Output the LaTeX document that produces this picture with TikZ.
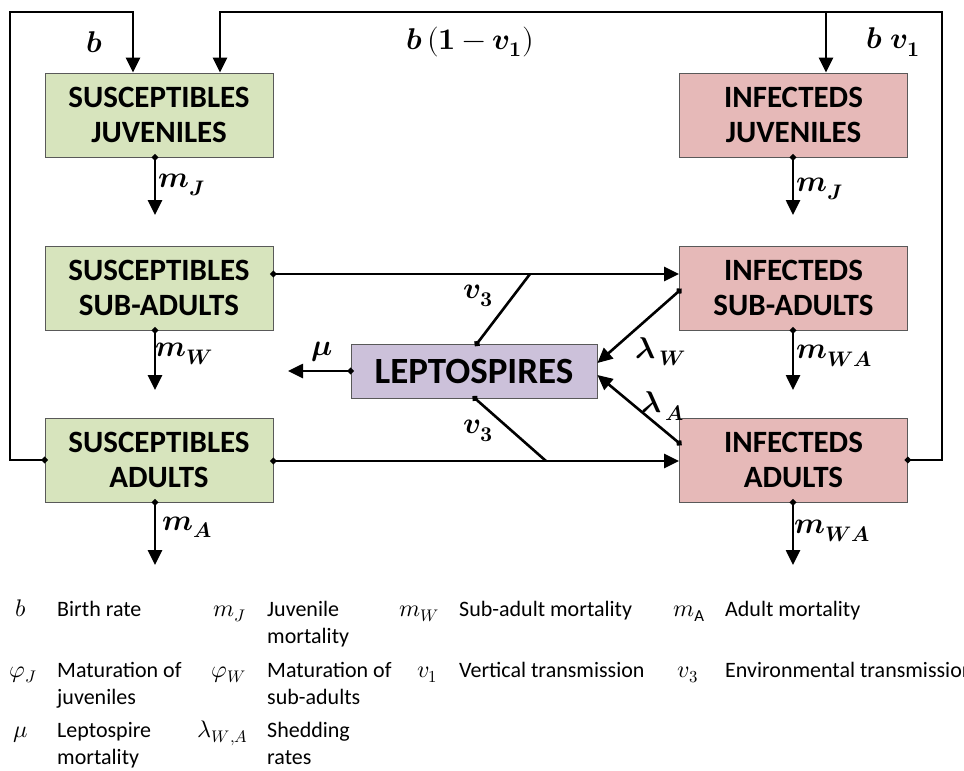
\documentclass[tikz,border=0pt]{standalone}
\usepackage{fontspec}
\usepackage{unicode-math}
\setmainfont{Carlito}
\setmathfont{Latin Modern Math}
\usetikzlibrary{arrows.meta}
\definecolor{susgreen}{HTML}{D7E4BD}
\definecolor{infpink}{HTML}{E6B9B8}
\definecolor{leppurple}{HTML}{CCC1DA}
\begin{document}
\begin{tikzpicture}[x=1pt,y=-1pt,
  compartment/.style={draw=black!65, line width=0.8pt, minimum width=228pt,
    minimum height=84pt, align=center, inner sep=0pt,
    font=\fontsize{31}{35}\selectfont\bfseries},
  sus/.style={compartment, fill=susgreen},
  inf/.style={compartment, fill=infpink},
  wire/.style={line width=2.6pt},
  flow/.style={wire, -{Triangle[length=15pt,width=14pt]}},
  dotflow/.style={wire, {Circle[length=6pt]}-{Triangle[length=15pt,width=14pt]}, shorten <=-3pt},
  dotwire/.style={wire, {Circle[length=6pt]}-, shorten <=-3pt},
  rate/.style={font=\fontsize{30}{33}\selectfont, inner sep=0pt},
  legtxt/.style={font=\fontsize{22}{27}\selectfont, anchor=base west, inner sep=0pt},
  legsym/.style={font=\fontsize{24}{27}\selectfont, anchor=base, inner sep=0pt},
  legsymr/.style={font=\fontsize{24}{27}\selectfont, anchor=base east, inner sep=0pt},
]
\clip (0,0) rectangle (964,771);
\fill[white] (0,0) rectangle (964,771);

% compartments
\node[sus] (sj) at (159,115) {SUSCEPTIBLES\\JUVENILES};
\node[inf] (ij) at (793.5,115) {INFECTEDS\\JUVENILES};
\node[sus] (ss) at (159,288) {SUSCEPTIBLES\\SUB-ADULTS};
\node[inf] (is) at (793.5,288) {INFECTEDS\\SUB-ADULTS};
\node[sus] (sa) at (159,460) {SUSCEPTIBLES\\ADULTS};
\node[inf] (ia) at (793.5,460) {INFECTEDS\\ADULTS};
\node[draw=black!65, line width=0.8pt, fill=leppurple, minimum width=246pt,
  minimum height=54pt, inner sep=0pt, font=\fontsize{37}{40}\selectfont\bfseries]
  (lep) at (474,371) {LEPTOSPIRES};

% births
\draw[dotflow] (sa.west) -| (10,12) -| (sj.north -| 133,0);
\draw[dotflow] (ia.east) -| (942,12) -| (sj.north -| 220,0);
\coordinate (vsplit) at (826,12);
\draw[flow] (vsplit) -- (ij.north -| vsplit);

% mortality
\coordinate (mjs) at (155,215);
\coordinate (mji) at (793,215);
\coordinate (mws) at (155,390);
\coordinate (mwi) at (793,390);
\coordinate (mas) at (155,565);
\coordinate (mai) at (793,565);
\draw[dotflow] (sj.south -| mjs) -- (mjs);
\draw[dotflow] (ij.south -| mji) -- (mji);
\draw[dotflow] (ss.south -| mws) -- (mws);
\draw[dotflow] (is.south -| mwi) -- (mwi);
\draw[dotflow] (sa.south -| mas) -- (mas);
\draw[dotflow] (ia.south -| mai) -- (mai);

% infection
\draw[dotflow] (ss.east |- 0,274) -- (is.west |- 0,274);
\draw[dotflow] (sa.east |- 0,461) -- (ia.west |- 0,461);
\coordinate (envtop) at (530,274);
\coordinate (envbot) at (546,461);
\draw[dotwire] (lep.north -| 477,0) -- (envtop);
\draw[dotwire] (lep.south -| 475,0) -- (envbot);

% shedding and decay
\draw[dotflow] (is.west |- 0,291) -- (lep.east |- 0,363);
\draw[dotflow] (ia.west |- 0,443) -- (lep.east |- 0,375);
\coordinate (mudecay) at (288,371);
\draw[dotflow] (lep.west) -- (mudecay);

% rate labels
\node[rate] (lb) at (95,42) {$\symbfit{b}$};
\node[rate] (lbv) at (470,42) {$\symbfit{b}\,(\symbf{1}-\symbfit{v}_{\symbf{1}})$};
\node[rate] (lbvi) at (893,42) {$\symbfit{b}\;\symbfit{v}_{\symbf{1}}$};
\node[rate] (lmjs) at (182,185) {$\symbfit{m}_{\symbfit{J}}$};
\node[rate] (lmji) at (820,189) {$\symbfit{m}_{\symbfit{J}}$};
\node[rate] (lmws) at (184,354) {$\symbfit{m}_{\symbfit{W}}$};
\node[rate] (lmwi) at (834,356) {$\symbfit{m}_{\symbfit{WA}}$};
\node[rate] (lmas) at (187,527) {$\symbfit{m}_{\symbfit{A}}$};
\node[rate] (lmai) at (832,531) {$\symbfit{m}_{\symbfit{WA}}$};
\node[rate] (lmu) at (322,352) {$\symbfit{\mu}$};
\node[rate] (lv3t) at (478,296) {$\symbfit{v}_{\symbf{3}}$};
\node[rate] (lv3b) at (478,431) {$\symbfit{v}_{\symbf{3}}$};
\node[rate] (llw) at (661,352) {$\symbfit{\lambda}_{\,\symbfit{W}}$};
\node[rate] (lla) at (663,406) {$\symbfit{\lambda}_{\,\symbfit{A}}$};

% key
\node[legsym] (kb) at (21,616) {$b$};
\node[legtxt] (kbt) at (57,616) {Birth rate};
\node[legsym] (kpj) at (23,677) {$\varphi_J$};
\node[legtxt] (kpjt) at (57,677) {Maturation of};
\node[legtxt] (kpjt2) at (57,704) {juveniles};
\node[legsym] (kmu) at (21,737) {$\mu$};
\node[legtxt] (kmut) at (57,737) {Leptospire};
\node[legtxt] (kmut2) at (57,764) {mortality};

\node[legsymr] (kmj) at (246,616) {$m_J$};
\node[legtxt] (kmjt) at (267,616) {Juvenile};
\node[legtxt] (kmjt2) at (267,643) {mortality};
\node[legsymr] (kpw) at (246,677) {$\varphi_W$};
\node[legtxt] (kpwt) at (267,677) {Maturation of};
\node[legtxt] (kpwt2) at (267,704) {sub-adults};
\node[legsymr] (kl) at (248,737) {$\lambda_{W,A}$};
\node[legtxt] (klt) at (267,737) {Shedding};
\node[legtxt] (klt2) at (267,764) {rates};

\node[legsymr] (kmw) at (439,616) {$m_W$};
\node[legtxt] (kmwt) at (459,616) {Sub-adult mortality};
\node[legsymr] (kv1) at (438,677) {$v_1$};
\node[legtxt] (kv1t) at (459,677) {Vertical transmission};

\node[legsym] (kma) at (689,616) {$m_{\mathrm{A}}$};
\node[legtxt] (kmat) at (725,616) {Adult mortality};
\node[legsym] (kv3) at (688,677) {$v_3$};
\node[legtxt] (kv3t) at (725,677) {Environmental transmission};
\end{tikzpicture}
\end{document}
